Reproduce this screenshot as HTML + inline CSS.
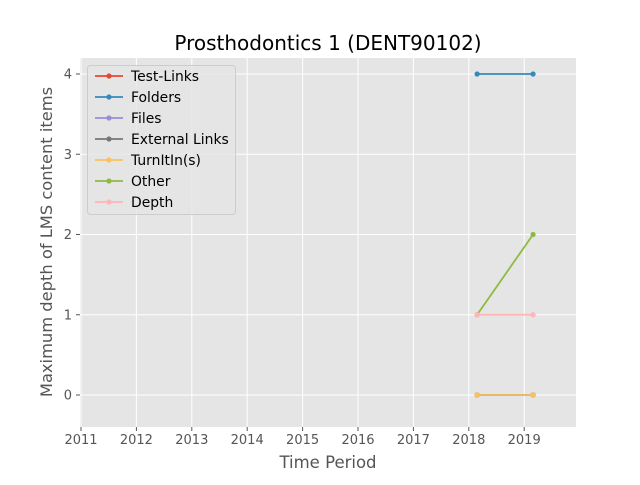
<!DOCTYPE html>
<html><head><meta charset="utf-8"><style>
body{margin:0;background:#fff;font-family:"Liberation Sans","DejaVu Sans",sans-serif}
svg text{font-family:"DejaVu Sans","Liberation Sans",sans-serif}
</style></head><body>
<svg id="c" width="640" height="480"></svg>
<script>
const years=[2018.15,2019.16];
const seriesNames=["Test-Links","Folders","Files","External Links","TurnItIn(s)","Other","Depth"];
const seriesColors=["#E24A33","#348ABD","#988ED5","#777777","#FBC15E","#8EBA42","#FFB5B8"];
const testLinks=[0,0];
const folders=[4,4];
const files=[0,0];
const externalLinks=[0,0];
const turnitin=[0,0];
const other=[1,2];
const depth=[1,1];
const xTicks=[2011,2012,2013,2014,2015,2016,2017,2018,2019];
const yTicks=[0,1,2,3,4];
const allSeries=[testLinks,folders,files,externalLinks,turnitin,other,depth];
const L=80,R=576,T=58,B=427;
const x=v=>81+(v-2011)*55.4;
const y=v=>395-v*80.25;
const NS="http://www.w3.org/2000/svg";
const svg=document.getElementById('c');
function mk(t,a,p){const e=document.createElementNS(NS,t);for(const k in a)e.setAttribute(k,a[k]);(p||svg).appendChild(e);return e;}
const bg=mk('rect',{x:L,y:T,width:R-L,height:B-T,fill:'#E5E5E5'});


xTicks.forEach(t=>{
 const g=mk('line',{x1:x(t),x2:x(t),y1:T,y2:B,stroke:'#fff','stroke-width':1});
 
 
 mk('line',{x1:x(t),x2:x(t),y1:B,y2:B+4,stroke:'#555'});
 const tx=mk('text',{x:x(t),y:B+17,'text-anchor':'middle','font-size':13,fill:'#555'});tx.textContent=t;
 
 
});
yTicks.forEach(t=>{
 const g=mk('line',{x1:L,x2:R,y1:y(t),y2:y(t),stroke:'#fff','stroke-width':1});
 
 
 mk('line',{x1:L-4,x2:L,y1:y(t),y2:y(t),stroke:'#555'});
 const tx=mk('text',{x:L-8,y:y(t)+4.5,'text-anchor':'end','font-size':13,fill:'#555'});tx.textContent=t;
 
 
});
allSeries.forEach((s,i)=>{
 const g=mk('g',{});
 
 
 mk('polyline',{points:s.map((v,j)=>x(years[j])+','+y(v)).join(' '),fill:'none',stroke:seriesColors[i],'stroke-width':1.8},g);
 s.forEach((v,j)=>mk('circle',{cx:x(years[j]),cy:y(v),r:2.6,fill:seriesColors[i]},g));
});
const title=mk('text',{x:328,y:50,'text-anchor':'middle','font-size':20,fill:'#000'});title.textContent='Prosthodontics 1 (DENT90102)';


const xl=mk('text',{x:328,y:468,'text-anchor':'middle','font-size':16.5,fill:'#555'});xl.textContent='Time Period';


const yl=mk('text',{x:0,y:0,'text-anchor':'middle','font-size':16.3,fill:'#555',transform:'translate(52,242) rotate(-90)'});yl.textContent='Maximum depth of LMS content items';


const lg=mk('g',{});


mk('rect',{x:87.5,y:65.5,width:148,height:149,rx:3,fill:'#E5E5E5',stroke:'#ccc','fill-opacity':0.8},lg);
seriesNames.forEach((n,i)=>{
 const yy=76+i*21;
 const e=mk('g',{},lg);
 
 
 mk('line',{x1:95,x2:123,y1:yy,y2:yy,stroke:seriesColors[i],'stroke-width':1.8},e);
 mk('circle',{cx:109,cy:yy,r:2.6,fill:seriesColors[i]},e);
 const t=mk('text',{x:131,y:yy+5,'font-size':13.9,fill:'#000'},e);t.textContent=n;
});
</script>
</body></html>
